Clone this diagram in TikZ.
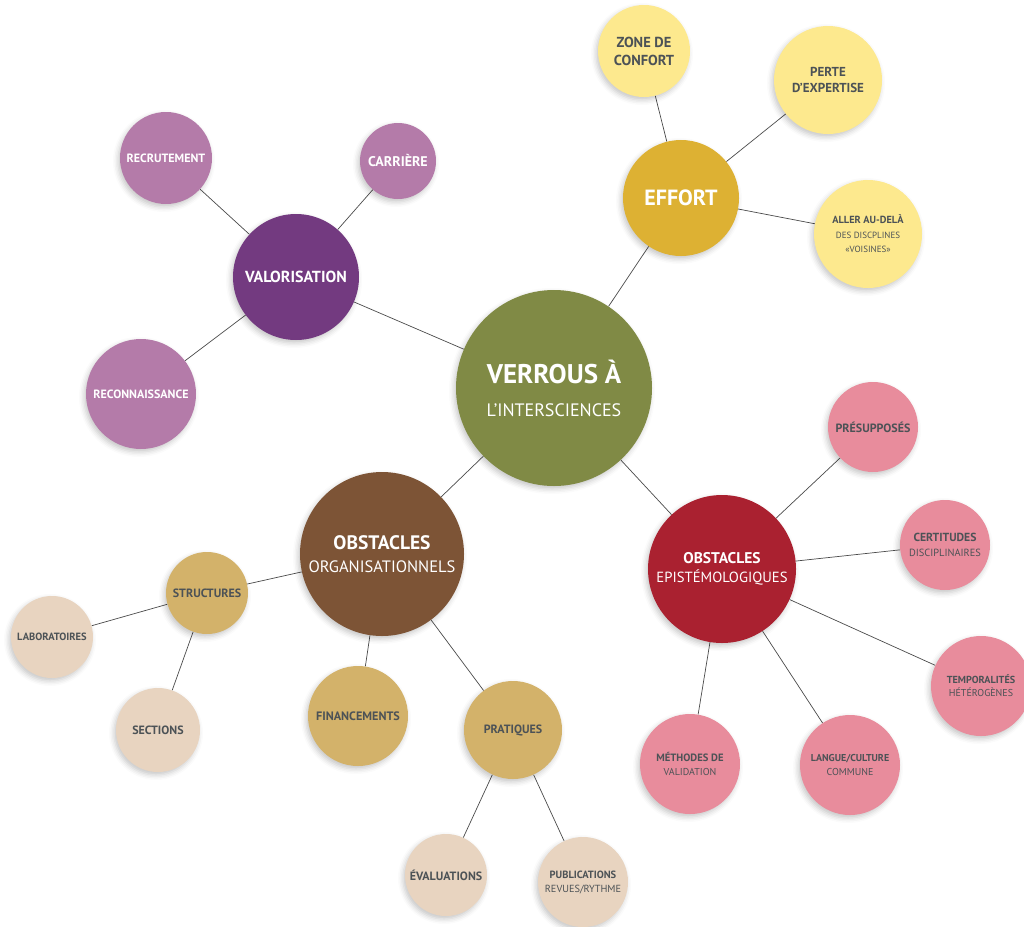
\documentclass[tikz,border=0pt]{standalone}
\usepackage{fontspec}
\setmainfont{PT Sans}
\usetikzlibrary{shadows.blur}
\pgfdeclarelayer{bg}
\pgfsetlayers{bg,main}
\definecolor{olive}{HTML}{808A45}
\definecolor{effortc}{HTML}{DDB133}
\definecolor{yellowl}{HTML}{FDE98E}
\definecolor{purplec}{HTML}{733A80}
\definecolor{purplel}{HTML}{B47BA9}
\definecolor{brownc}{HTML}{7D5436}
\definecolor{tanc}{HTML}{D3B26A}
\definecolor{beigel}{HTML}{E8D4C0}
\definecolor{redc}{HTML}{AA2130}
\definecolor{pinkl}{HTML}{E88C9C}
\definecolor{txtd}{HTML}{4C5256}
\definecolor{linec}{HTML}{4A4A4A}
\tikzset{
  bub/.style={circle, inner sep=0pt, align=center, minimum size=#1,
    blur shadow={shadow xshift=-2pt, shadow yshift=-3pt, shadow blur radius=5pt, shadow opacity=22}},
  fs/.style 2 args={font=\fontsize{#1}{#2}\selectfont},
  link/.style={draw=linec, line width=0.7pt},
}
\newcommand{\sz}[1]{\fontsize{#1}{#1}\selectfont}
\begin{document}
\begin{tikzpicture}[x=1pt,y=-1pt]
\useasboundingbox (0,0) rectangle (1024,926);
% centre
\node[bub=196pt, fill=olive, text=white, fs={27}{33}] (c) at (554,388) {\textbf{VERROUS À}\\{\sz{18}L’INTERSCIENCES}};
% effort
\node[bub=116pt, fill=effortc, text=white, fs={22}{24}] (ef) at (681,198) {\textbf{EFFORT}};
\node[bub=92pt, fill=yellowl, text=txtd, fs={14.5}{18}] (zc) at (644,51) {\textbf{ZONE DE}\\\textbf{CONFORT}};
\node[bub=108pt, fill=yellowl, text=txtd, fs={13}{16}] (pe) at (828,80) {\textbf{PERTE}\\\textbf{D’EXPERTISE}};
\node[bub=108pt, fill=yellowl, text=txtd, fs={10.3}{14.5}] (al) at (868,234) {\textbf{ALLER AU-DELÀ}\\{\sz{9}DES DISCPLINES}\\{\sz{9}«VOISINES»}};
% valorisation
\node[bub=126pt, fill=purplec, text=white, fs={16}{18}] (va) at (296,277) {\textbf{VALORISATION}};
\node[bub=92pt, fill=purplel, text=white, fs={12}{14}] (re) at (166,158) {\textbf{RECRUTEMENT}};
\node[bub=76pt, fill=purplel, text=white, fs={14}{14}] (ca) at (398,161) {\textbf{CARRIÈRE}};
\node[bub=110pt, fill=purplel, text=white, fs={12}{14}] (rc) at (141,394) {\textbf{RECONNAISSANCE}};
% organisationnels
\node[bub=164pt, fill=brownc, text=white, fs={19.5}{23}] (og) at (382,554) {\textbf{OBSTACLES}\\{\sz{16.5}ORGANISATIONNELS}};
\node[bub=82pt, fill=tanc, text=txtd, fs={12}{13}] (st) at (207,593) {\textbf{STRUCTURES}};
\node[bub=82pt, fill=beigel, text=txtd, fs={10.5}{13}] (la) at (52,637) {\textbf{LABORATOIRES}};
\node[bub=84pt, fill=beigel, text=txtd, fs={12}{13}] (se) at (158,730) {\textbf{SECTIONS}};
\node[bub=100pt, fill=tanc, text=txtd, fs={12.2}{13}] (fi) at (358,716) {\textbf{FINANCEMENTS}};
\node[bub=98pt, fill=tanc, text=txtd, fs={12}{13}] (pr) at (513,730) {\textbf{PRATIQUES}};
\node[bub=82pt, fill=beigel, text=txtd, fs={12}{13}] (ev) at (446,875) {\textbf{ÉVALUATIONS}};
\node[bub=90pt, fill=beigel, text=txtd, fs={10.5}{14}] (pu) at (583,882) {\textbf{PUBLICATIONS}\\{\sz{10.3}REVUES/RYTHME}};
% epistemologiques
\node[bub=148pt, fill=redc, text=white, fs={15.5}{19.5}] (ep) at (722,569) {\textbf{OBSTACLES}\\{\sz{14.7}EPISTÉMOLOGIQUES}};
\node[bub=90pt, fill=pinkl, text=txtd, fs={12}{14}] (ps) at (873,427) {\textbf{PRÉSUPPOSÉS}};
\node[bub=90pt, fill=pinkl, text=txtd, fs={11.7}{15}] (ce) at (945,545) {\textbf{CERTITUDES}\\{\sz{10.4}DISCIPLINAIRES}};
\node[bub=100pt, fill=pinkl, text=txtd, fs={10.2}{13}] (te) at (981,686) {\textbf{TEMPORALITÉS}\\{\sz{10}HÉTÉROGÈNES}};
\node[bub=100pt, fill=pinkl, text=txtd, fs={10.6}{14}] (me) at (690,764) {\textbf{MÉTHODES DE}\\{\sz{10}VALIDATION}};
\node[bub=100pt, fill=pinkl, text=txtd, fs={10}{14}] (lc) at (850,765) {\textbf{LANGUE/CULTURE}\\{\sz{10}COMMUNE}};
\begin{pgfonlayer}{bg}
\draw[link] (c) -- (ef);
\draw[link] (ef) -- (zc);
\draw[link] (ef) -- (pe);
\draw[link] (ef) -- (al);
\draw[link] (c) -- (va);
\draw[link] (va) -- (re);
\draw[link] (va) -- (ca);
\draw[link] (va) -- (rc);
\draw[link] (c) -- (og);
\draw[link] (og) -- (st);
\draw[link] (st) -- (la);
\draw[link] (st) -- (se);
\draw[link] (og) -- (fi);
\draw[link] (og) -- (pr);
\draw[link] (pr) -- (ev);
\draw[link] (pr) -- (pu);
\draw[link] (c) -- (ep);
\draw[link] (ep) -- (ps);
\draw[link] (ep) -- (ce);
\draw[link] (ep) -- (te);
\draw[link] (ep) -- (me);
\draw[link] (ep) -- (lc);
\end{pgfonlayer}
\end{tikzpicture}
\end{document}
